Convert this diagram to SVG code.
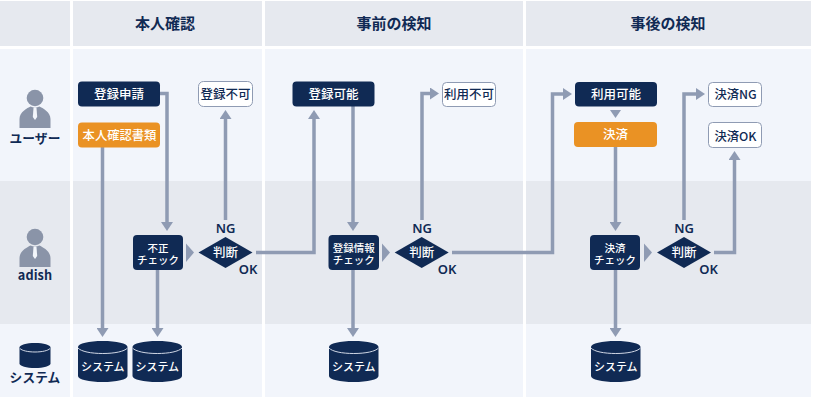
<svg xmlns="http://www.w3.org/2000/svg" width="813" height="400" viewBox="0 0 813 400">
<style>
text{font-family:"Noto Sans CJK JP","Noto Sans",sans-serif;text-anchor:middle;font-weight:500}
.h{font-size:15px;font-weight:700;fill:#102a54}
.r{font-size:12.700px;font-weight:700;fill:#102a54;letter-spacing:.1px}
.t{font-size:12.500px;fill:#fff}
.u{font-size:12.300px;fill:#fff}
.s{font-size:11px;fill:#fff}
.c{font-size:10.500px;fill:#fff}
.w{font-size:12.500px;fill:#102a54}
.v{font-size:12.300px;fill:#102a54}
.l{font-size:13px;fill:#102a54;font-family:"Noto Sans",sans-serif;font-weight:600}
.n{fill:#102a54}
.o{fill:#ea9224}
.x{fill:#fff;stroke:#8f9bb3;stroke-width:1}
.i{fill:#8a94a8}
.ln{fill:none;stroke:#8f9bb3;stroke-width:3.500}
.ah{fill:#8f9bb3}
</style>
<defs>
<marker id="a" viewBox="0 0 9 12" markerUnits="userSpaceOnUse" markerWidth="9" markerHeight="12" refX="0" refY="6" orient="auto"><path d="M0 0L9 6L0 12Z" fill="#8f9bb3"/></marker>
<g id="person"><circle cx="35" cy="98" r="8.300" class="i"/><path d="M19.500 128v-9c0-7 8-11 11-12.500l4.500 1.500 4.500-1.500c3 1.500 11 5.500 11 12.500v9z" class="i"/><path d="M33.500 108h3l.7 9-2.200 3-2.200-3z" fill="#f3f6fb"/></g>
<g id="cyl"><path d="M0 6c0-3.500 11-6 24.750-6s24.750 2.500 24.750 6v29c0 3.500-11 6-24.750 6S0 38.500 0 35z" class="n"/><path d="M0 7c3 3.500 13 5.500 24.750 5.500S46.500 10.500 49.500 7" fill="none" stroke="#cfd6e4" stroke-width="1"/></g>
</defs>
<rect width="813" height="400" fill="#fff"/>
<g id="bands">
<g fill="#e6e9ef"><rect x="0" y="1" width="70" height="45"/><rect x="73" y="1" width="189" height="45"/><rect x="265" y="1" width="258" height="45"/><rect x="526" y="1" width="285" height="45"/>
<rect x="0" y="181" width="70" height="143"/><rect x="73" y="181" width="189" height="143"/><rect x="265" y="181" width="258" height="143"/><rect x="526" y="181" width="285" height="143"/></g>
<g fill="#f2f5fb"><rect x="0" y="49" width="70" height="132"/><rect x="73" y="49" width="189" height="132"/><rect x="265" y="49" width="258" height="132"/><rect x="526" y="49" width="285" height="132"/>
<rect x="0" y="324" width="70" height="73"/><rect x="73" y="324" width="189" height="73"/><rect x="265" y="324" width="258" height="73"/><rect x="526" y="324" width="285" height="73"/></g>
</g>
<g id="headers"><text class="h" x="165" y="29">本人確認</text><text class="h" x="394" y="29">事前の検知</text><text class="h" x="668" y="29">事後の検知</text></g>
<g id="connectors">
<path class="ln" marker-end="url(#a)" d="M160 93.500H167V222"/>
<path class="ln" marker-end="url(#a)" d="M102.500 147V328"/>
<path class="ln" marker-end="url(#a)" d="M157.500 270V328"/>
<path class="ln" marker-end="url(#a)" d="M225.500 220V119"/>
<path class="ln" marker-end="url(#a)" d="M256 252.500H314V119"/>
<path class="ln" marker-end="url(#a)" d="M353 106V222"/>
<path class="ln" marker-end="url(#a)" d="M353 270V328"/>
<path class="ln" marker-end="url(#a)" d="M422 220V93.500H430"/>
<path class="ln" marker-end="url(#a)" d="M452 252.500H552.500V94H563"/>
<path class="ln" marker-end="url(#a)" d="M615.500 147V222"/>
<path class="ln" marker-end="url(#a)" d="M615.500 270V328"/>
<path class="ln" marker-end="url(#a)" d="M684 220V94H696"/>
<path class="ln" marker-end="url(#a)" d="M714 252.500H734.500V160"/>
<path class="ah" d="M610 110H621L615.500 118Z"/>
<path class="ah" d="M186 243.500L194 252.500L186 262Z"/>
<path class="ah" d="M382 243.500L390 252.500L382 262Z"/>
<path class="ah" d="M644 243.500L652 252.500L644 262Z"/>
</g>
<g id="actor-user"><use href="#person"/><text class="r" x="35" y="143">ユーザー</text></g>
<g id="actor-adish"><use href="#person" y="139"/><text class="r" x="35" y="280">adish</text></g>
<g id="actor-system"><path d="M19.500 347.500c0-2.500 7-4.500 15.500-4.500s15.500 2 15.500 4.500v16c0 2.500-7 4.500-15.500 4.500s-15.500-2-15.500-4.500z" class="n"/><path d="M20 348.500c2 2.200 8 3.500 15 3.500s13-1.300 15-3.500" fill="none" stroke="#cfd6e4"/><text class="r" x="35" y="382">システム</text></g>
<g id="n1"><rect class="n" x="78" y="81.500" width="82" height="25" rx="4"/><text class="t" x="119" y="99">登録申請</text></g>
<g id="n2"><rect class="o" x="78" y="122.500" width="82" height="25" rx="4"/><text class="u" x="119.500" y="140">本人確認書類</text></g>
<g id="n3"><rect class="x" x="198.500" y="81.500" width="54" height="25" rx="5"/><text class="w" x="225.500" y="99">登録不可</text></g>
<g id="n4"><rect class="n" x="133" y="235" width="50" height="35" rx="4"/><text class="c" x="158" y="252">不正</text><text class="c" x="158" y="263.500">チェック</text></g>
<g id="d1"><path class="n" d="M225.500 237L252.500 252.500L225.500 268L198.500 252.500Z"/><text class="t" x="225.500" y="257">判断</text></g>
<g id="l1"><text class="l" x="225.500" y="233">NG</text><text class="l" x="248" y="274">OK</text></g>
<g id="db1"><use href="#cyl" x="78" y="341"/><text class="s" x="102.750" y="371">システム</text></g>
<g id="db2"><use href="#cyl" x="132.500" y="341"/><text class="s" x="157.250" y="371">システム</text></g>
<g id="n5"><rect class="n" x="292.500" y="81.500" width="82" height="25" rx="4"/><text class="t" x="333.500" y="99">登録可能</text></g>
<g id="n6"><rect class="x" x="442.500" y="82.500" width="53" height="24" rx="4"/><text class="w" x="469" y="99">利用不可</text></g>
<g id="n7"><rect class="n" x="328.500" y="235" width="50.500" height="35" rx="4"/><text class="c" x="353.700" y="252">登録情報</text><text class="c" x="353.700" y="263.500">チェック</text></g>
<g id="d2"><path class="n" d="M421.700 237L448.700 252.500L421.700 268L394.700 252.500Z"/><text class="t" x="421.700" y="257">判断</text></g>
<g id="l2"><text class="l" x="422" y="233">NG</text><text class="l" x="447" y="274">OK</text></g>
<g id="db3"><use href="#cyl" x="329" y="341"/><text class="s" x="353.750" y="371">システム</text></g>
<g id="n8"><rect class="n" x="575" y="82" width="82" height="24.500" rx="4"/><text class="t" x="616" y="99">利用可能</text></g>
<g id="n9"><rect class="o" x="574" y="122" width="83" height="25" rx="4"/><text class="t" x="615.500" y="139">決済</text></g>
<g id="n10"><rect class="x" x="708.500" y="82.500" width="53" height="24" rx="4"/><text class="v" x="735.500" y="99">決済NG</text></g>
<g id="n11"><rect class="x" x="708.500" y="122.500" width="53" height="25" rx="4"/><text class="v" x="735.500" y="141">決済OK</text></g>
<g id="n12"><rect class="n" x="590" y="235" width="50" height="35" rx="4"/><text class="c" x="615" y="252">決済</text><text class="c" x="615" y="263.500">チェック</text></g>
<g id="d3"><path class="n" d="M684 237L711 252.500L684 268L657 252.500Z"/><text class="t" x="684" y="257">判断</text></g>
<g id="l3"><text class="l" x="684" y="233">NG</text><text class="l" x="708.500" y="274">OK</text></g>
<g id="db4"><use href="#cyl" x="591" y="341"/><text class="s" x="615.750" y="371">システム</text></g>
</svg>
